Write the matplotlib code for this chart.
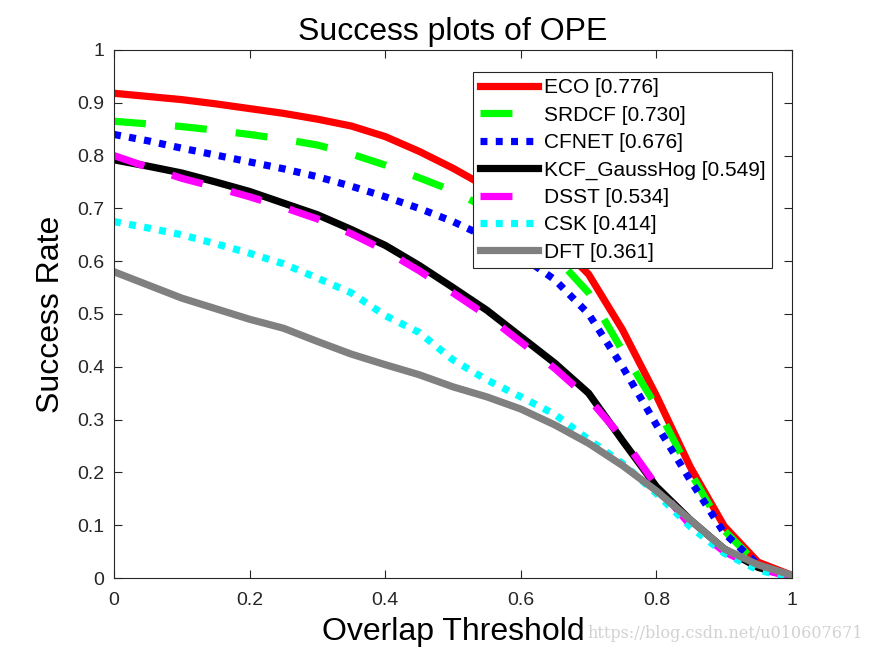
import numpy as np
import matplotlib
matplotlib.use("Agg")
import matplotlib.pyplot as plt

plt.rcParams['font.family'] = ['Liberation Sans', 'DejaVu Sans']
plt.rcParams['lines.scale_dashes'] = False

thresholds = np.linspace(0, 1, 21)

eco = [0.918, 0.912, 0.906, 0.898, 0.889, 0.880, 0.869, 0.856, 0.836, 0.808,
       0.776, 0.740, 0.692, 0.640, 0.575, 0.470, 0.345, 0.210, 0.098, 0.030, 0.005]
srdcf = [0.865, 0.860, 0.855, 0.848, 0.840, 0.831, 0.820, 0.803, 0.782, 0.758,
         0.733, 0.700, 0.660, 0.610, 0.540, 0.430, 0.325, 0.200, 0.090, 0.025, 0.003]
cfnet = [0.840, 0.828, 0.814, 0.801, 0.788, 0.775, 0.760, 0.742, 0.722, 0.700,
         0.675, 0.645, 0.610, 0.565, 0.500, 0.400, 0.290, 0.185, 0.085, 0.025, 0.002]
kcf = [0.792, 0.780, 0.767, 0.750, 0.732, 0.710, 0.688, 0.660, 0.630, 0.592,
       0.550, 0.507, 0.457, 0.407, 0.350, 0.260, 0.173, 0.110, 0.055, 0.020, 0.002]
dsst = [0.800, 0.778, 0.757, 0.740, 0.722, 0.702, 0.680, 0.652, 0.620, 0.582,
        0.540, 0.497, 0.447, 0.397, 0.340, 0.265, 0.175, 0.100, 0.050, 0.018, 0.002]
csk = [0.675, 0.663, 0.650, 0.633, 0.615, 0.595, 0.568, 0.540, 0.497, 0.465,
       0.413, 0.375, 0.343, 0.310, 0.262, 0.217, 0.160, 0.097, 0.047, 0.015, 0.000]
dft = [0.580, 0.555, 0.530, 0.510, 0.490, 0.473, 0.448, 0.424, 0.404, 0.385,
       0.362, 0.343, 0.320, 0.290, 0.255, 0.213, 0.165, 0.110, 0.055, 0.025, 0.005]

names = ['ECO [0.776]', 'SRDCF [0.730]', 'CFNET [0.676]', 'KCF_GaussHog [0.549]',
         'DSST [0.534]', 'CSK [0.414]', 'DFT [0.361]']

fig = plt.figure(figsize=(8.75, 6.56), dpi=100)
ax = fig.add_axes([0.1303, 0.1189, 0.7749, 0.8049])

lw = 5.2
ax.plot(thresholds, eco, color='#ff0000', lw=lw, label=names[0])
ax.plot(thresholds, srdcf, color='#00ff00', lw=lw, dashes=(23, 21), label=names[1])
ax.plot(thresholds, cfnet, color='#0000ff', lw=lw, dashes=(5, 6), label=names[2])
ax.plot(thresholds, kcf, color='#000000', lw=lw, label=names[3])
ax.plot(thresholds, dsst, color='#ff00ff', lw=lw, dashes=(23, 21), label=names[4])
ax.plot(thresholds, csk, color='#00ffff', lw=lw, dashes=(5, 6), label=names[5])
ax.plot(thresholds, dft, color='#808080', lw=lw, label=names[6])

ax.set_xlim(0, 1)
ax.set_ylim(0, 1)
ax.set_xticks(np.arange(0, 1.01, 0.2))
ax.set_xticklabels(['0', '0.2', '0.4', '0.6', '0.8', '1'])
ax.set_yticks(np.arange(0, 1.01, 0.1))
ax.set_yticklabels(['0', '0.1', '0.2', '0.3', '0.4', '0.5', '0.6', '0.7', '0.8', '0.9', '1'])
ax.tick_params(direction='in', top=True, right=True, labelsize=14, length=6,
               width=0.8, color='#262626', labelcolor='#262626')
ax.tick_params(axis='x', pad=10)
ax.tick_params(axis='y', pad=7)
for s in ax.spines.values():
    s.set_color('#262626')
    s.set_linewidth(0.8)

ax.set_title('Success plots of OPE', fontsize=23, pad=7)
ax.set_xlabel('Overlap Threshold', fontsize=23, labelpad=6)
ax.set_ylabel('Success Rate', fontsize=23, labelpad=8)

leg = ax.legend(loc='upper right', bbox_to_anchor=(0.9705, 0.958), fontsize=15,
                frameon=True, fancybox=False, framealpha=1, handlelength=2.8,
                handletextpad=0.3, borderpad=0.3, labelspacing=0.4, borderaxespad=0)
leg.get_frame().set_edgecolor('#262626')
leg.get_frame().set_linewidth(0.8)

fig.text(0.986, 0.021, 'https://blog.csdn.net/u010607671', ha='right', va='bottom',
         fontsize=11.5, color='#d2d2d2', family='DejaVu Serif')

fig.savefig('out.png', dpi=100)
